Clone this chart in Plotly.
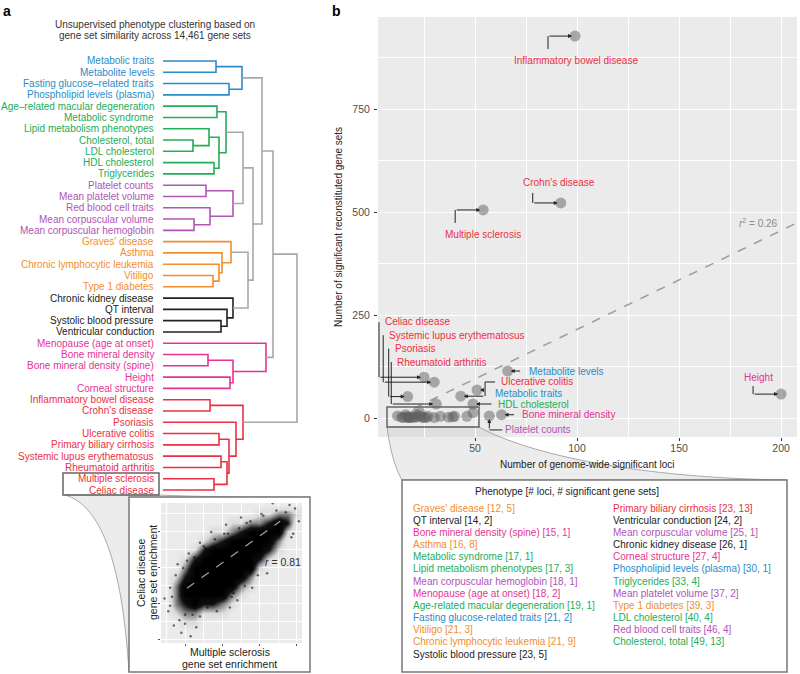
import plotly.graph_objects as go

W, H = 800, 674
FONT = "Liberation Sans, Arial, sans-serif"

def fx(p):  # pixel -> paper x
    return p / W

def fy(p):  # pixel -> paper y
    return 1 - p / H

# ---------------- data ----------------
phenotypes = [
    "Metabolic traits", "Metabolite levels", "Fasting glucose-related traits", "Phospholipid levels (plasma)",
    "Age-related macular degeneration", "Metabolic syndrome", "Lipid metabolism phenotypes", "Cholesterol, total",
    "LDL cholesterol", "HDL cholesterol", "Triglycerides",
    "Platelet counts", "Mean platelet volume", "Red blood cell traits", "Mean corpuscular volume",
    "Mean corpuscular hemoglobin",
    "Graves' disease", "Asthma", "Chronic lymphocytic leukemia", "Vitiligo", "Type 1 diabetes",
    "Chronic kidney disease", "QT interval", "Systolic blood pressure", "Ventricular conduction",
    "Menopause (age at onset)", "Bone mineral density", "Bone mineral density (spine)", "Height", "Corneal structure",
    "Inflammatory bowel disease", "Crohn's disease", "Psoriasis", "Ulcerative colitis", "Primary biliary cirrhosis",
    "Systemic lupus erythematosus", "Rheumatoid arthritis", "Multiple sclerosis", "Celiac disease",
]
clusters = (["blue"] * 4 + ["green"] * 7 + ["purple"] * 5 + ["orange"] * 5 + ["black"] * 4
            + ["pink"] * 5 + ["red"] * 9)
loci = [43, 66, 21, 30, 19, 17, 17, 49, 40, 49, 33, 57, 37, 46, 25, 18, 12, 16, 21, 21, 39,
        26, 14, 23, 24, 18, 63, 15, 200, 27, 99, 92, 17, 51, 23, 30, 31, 54, 25]
gene_sets = [53, 114, 2, 1, 1, 1, 3, 13, 4, 34, 4, 5, 2, 4, 1, 1, 5, 8, 9, 3, 3,
             1, 2, 5, 2, 2, 8, 1, 58, 4, 927, 522, 52, 68, 13, 87, 34, 505, 99]

cluster_colors = {
    "blue": "#2A8CCB", "green": "#22AD58", "purple": "#B054B6", "orange": "#F28E2B",
    "black": "#222222", "pink": "#E63394", "red": "#EB2F43", "gray": "#A8A8A8",
}

# dendrogram merges: (child a, child b, height, colour); leaves 0..38, merge k -> node 39+k
merges = [
    (0, 1, 53, "blue"), (2, 3, 66, "blue"), (39, 40, 79, "blue"),
    (4, 5, 54, "green"), (7, 8, 30, "green"), (6, 43, 46, "green"), (9, 10, 51, "green"),
    (44, 45, 56, "green"), (42, 46, 63, "green"),
    (11, 12, 43, "purple"), (14, 15, 31, "purple"), (13, 49, 47, "purple"), (48, 50, 70, "purple"),
    (19, 20, 50, "orange"), (18, 52, 56, "orange"), (17, 53, 59, "orange"), (16, 54, 68, "orange"),
    (23, 24, 58, "black"), (22, 56, 64, "black"), (21, 57, 70, "black"),
    (26, 27, 45, "pink"), (28, 29, 67, "pink"), (59, 60, 70, "pink"), (25, 61, 103, "pink"),
    (30, 31, 47, "red"), (33, 34, 56, "red"), (35, 36, 58, "red"), (37, 38, 51, "red"),
    (65, 66, 64, "red"), (64, 67, 66, "red"), (32, 68, 73, "red"), (63, 69, 80, "red"),
    (47, 51, 80, "gray"), (55, 58, 85, "gray"), (71, 72, 90, "gray"), (41, 73, 99, "gray"),
    (74, 62, 110, "gray"), (75, 70, 134, "gray"),
]

table_left = ["Graves' disease", "QT interval", "Bone mineral density (spine)", "Asthma", "Metabolic syndrome",
              "Lipid metabolism phenotypes", "Mean corpuscular hemoglobin", "Menopause (age at onset)",
              "Age-related macular degeneration", "Fasting glucose-related traits", "Vitiligo",
              "Chronic lymphocytic leukemia", "Systolic blood pressure"]
table_right = ["Primary biliary cirrhosis", "Ventricular conduction", "Mean corpuscular volume",
               "Chronic kidney disease", "Corneal structure", "Phospholipid levels (plasma)", "Triglycerides",
               "Mean platelet volume", "Type 1 diabetes", "LDL cholesterol", "Red blood cell traits",
               "Cholesterol, total"]

fit_slope, fit_intercept = 2.4, -25.0
fit_x = [12, 215]
r2_text_pos = (189, 473)

# inset (MS vs celiac) density grid
inset_x = [-3, -2.5, -2, -1.5, -1, -0.5, 0, 0.5, 1, 1.5, 2, 2.5, 3, 3.5, 4]
inset_y = [-2, -1.5, -1, -0.5, 0, 0.5, 1, 1.5, 2, 2.5, 3, 3.5, 4, 4.5, 5, 5.5]
inset_density = [
    [0, 0, 0, 0, 0, 0, 0, 0, 0, 0, 0, 0, 0, 0, 0],
    [0, 0, 0, 0, 0, 0, 0, 0, 0, 0, 0, 0, 0, 0, 0],
    [0, 0, 1, 1, 0, 0, 0, 0, 0, 0, 0, 0, 0, 0, 0],
    [0, 1, 2, 2, 1, 1, 1, 0, 0, 0, 0, 0, 0, 0, 0],
    [0, 2, 3, 4, 3, 3, 2, 1, 0, 0, 0, 0, 0, 0, 0],
    [0, 2, 4, 4, 4, 4, 4, 2, 1, 0, 0, 0, 0, 0, 0],
    [0, 2, 4, 4, 4, 4, 4, 4, 2, 1, 0, 0, 0, 0, 0],
    [0, 1, 3, 4, 4, 4, 4, 4, 4, 2, 0, 0, 0, 0, 0],
    [0, 0, 2, 4, 4, 4, 4, 4, 4, 4, 1, 0, 0, 0, 0],
    [0, 0, 1, 3, 4, 4, 4, 4, 4, 4, 3, 1, 0, 0, 0],
    [0, 0, 0, 1, 3, 4, 4, 4, 4, 4, 4, 3, 1, 0, 0],
    [0, 0, 0, 0, 1, 2, 3, 4, 4, 4, 4, 4, 2, 0, 0],
    [0, 0, 0, 0, 0, 1, 1, 2, 3, 4, 4, 4, 4, 1, 0],
    [0, 0, 0, 0, 0, 0, 0, 1, 1, 2, 2, 3, 4, 3, 0],
    [0, 0, 0, 0, 0, 0, 0, 0, 0, 0, 1, 1, 2, 2, 1],
    [0, 0, 0, 0, 0, 0, 0, 0, 0, 0, 0, 0, 0, 0, 0],
]
inset_pts_x = [-2.6, -2.2, -1.7, -3.1, -2.8, -2.4, -1.8, -1.2, -0.6, 0.2, 1.0, 3.9, 4.1, 3.6, 2.7,
               0.8, 1.6, 2.4, -0.3, -1.2, -2.0, -2.9, -1.4, 0.4, 3.8, -2.3, -1.9, -0.9,
               0.1, 1.3, 2.1, 3.4, 1.9, 0.6, -1.6, -2.7, -2.5, -2.1, -1.5, -1.0, -0.4, 0.3, 0.9,
               1.5, 2.2, 2.9, 3.7, -2.8, -2.0, -0.8, 0.5, 1.2]
inset_pts_y = [-1.2, -1.6, -1.8, 0.3, 0.9, 2.2, 2.8, 3.4, 4.0, 4.4, 4.8, 5.3, 4.6, 5.5, 5.6,
               0.2, 0.9, 1.7, -0.4, -0.7, -1.1, -0.4, -1.3, -0.2, 3.9, -0.9, 2.4, 3.1,
               3.9, 4.5, 5.0, 5.1, 1.6, 0.6, -0.6, 0.4, 1.6, 2.0, 2.6, 3.2, 3.6, 3.9, 4.2,
               4.6, 4.9, 5.2, 3.7, -0.1, -0.6, -0.2, 0.4, 1.0]
inset_fit_slope, inset_fit_intercept = 0.745, 2.29
inset_fit_x = [-1.9, 3.1]

# ---------------- figure ----------------
fig = go.Figure()

# dendrogram
n_leaves = len(phenotypes)
node_y = {i: float(i) for i in range(n_leaves)}
node_h = {i: 0.0 for i in range(n_leaves)}
seg = {}
for k, (a, b, h, col) in enumerate(merges):
    nid = n_leaves + k
    node_y[nid] = (node_y[a] + node_y[b]) / 2
    node_h[nid] = h
    xs = [node_h[a], h, h, node_h[b], None]
    ys = [node_y[a], node_y[a], node_y[b], node_y[b], None]
    seg.setdefault(col, ([], []))
    seg[col][0].extend(xs)
    seg[col][1].extend(ys)
for col, (xs, ys) in seg.items():
    fig.add_trace(go.Scatter(x=xs, y=ys, mode="lines", line=dict(color=cluster_colors[col], width=1.6),
                             xaxis="x2", yaxis="y2", hoverinfo="skip", showlegend=False))

# main scatter: regression line then points
fig.add_trace(go.Scatter(x=fit_x, y=[fit_slope * v + fit_intercept for v in fit_x], mode="lines",
                         line=dict(color="#A0A0A0", width=1.6, dash="dash"), xaxis="x", yaxis="y",
                         hoverinfo="skip", showlegend=False))
fig.add_trace(go.Scatter(x=loci, y=gene_sets, mode="markers", text=phenotypes,
                         marker=dict(size=11, color="rgba(95,95,95,0.5)", line=dict(width=0)),
                         xaxis="x", yaxis="y", showlegend=False))

# inset scatter
fig.add_trace(go.Heatmap(x=inset_x, y=inset_y, z=inset_density, zsmooth="best", zmin=0, zmax=4,
                         colorscale=[[0, "rgba(0,0,0,0)"], [0.25, "rgba(0,0,0,0.07)"], [0.5, "rgba(0,0,0,0.45)"],
                                     [0.75, "rgba(0,0,0,0.93)"], [1, "rgba(0,0,0,1)"]],
                         showscale=False, xaxis="x3", yaxis="y3", hoverinfo="skip"))
fig.add_trace(go.Scatter(x=inset_pts_x, y=inset_pts_y, mode="markers",
                         marker=dict(size=2.5, color="rgba(0,0,0,0.55)"), xaxis="x3", yaxis="y3",
                         hoverinfo="skip", showlegend=False))
fig.add_trace(go.Scatter(x=inset_fit_x, y=[inset_fit_slope * v + inset_fit_intercept for v in inset_fit_x],
                         mode="lines", line=dict(color="rgba(190,190,190,0.85)", width=1.2, dash="dash"),
                         xaxis="x3", yaxis="y3", hoverinfo="skip", showlegend=False))

shapes = []
shapes.append(dict(type="rect", xref="paper", yref="paper", x0=fx(378), x1=fx(797), y0=fy(437), y1=fy(17),
                   fillcolor="#EBEBEB", line=dict(width=0), layer="below"))


def P(x, y):
    return f"{fx(x):.5f},{fy(y):.5f}"


funnel_b = (f"M {P(387,427)} L {P(479,427)} C {P(530,455)} {P(640,478)} {P(787,480)} "
            f"L {P(402,480)} C {P(395,468)} {P(390,450)} {P(387,427)} Z")
shapes.append(dict(type="path", xref="paper", yref="paper", path=funnel_b,
                   fillcolor="rgba(200,200,200,0.35)", line=dict(color="rgba(150,150,150,0.8)", width=1),
                   layer="below"))
shapes.append(dict(type="rect", xref="paper", yref="paper", x0=fx(402), x1=fx(787), y0=fy(672), y1=fy(480),
                   fillcolor="white", line=dict(color="#777777", width=1.5), layer="below"))
funnel_a = (f"M {P(65,495)} L {P(159,495)} C {P(200,497)} {P(260,497)} {P(310,497)} "
            f"L {P(129,672)} C {P(122,560)} {P(100,505)} {P(65,495)} Z")
shapes.append(dict(type="path", xref="paper", yref="paper", path=funnel_a,
                   fillcolor="rgba(200,200,200,0.35)", line=dict(color="rgba(150,150,150,0.8)", width=1),
                   layer="below"))
shapes.append(dict(type="rect", xref="paper", yref="paper", x0=fx(129), x1=fx(310), y0=fy(672), y1=fy(497),
                   fillcolor="white", line=dict(color="#777777", width=1.5), layer="below"))
shapes.append(dict(type="rect", xref="paper", yref="paper", x0=fx(161), x1=fx(302), y0=fy(643), y1=fy(503),
                   fillcolor="#EBEBEB", line=dict(width=0), layer="below"))
shapes.append(dict(type="rect", xref="paper", yref="paper", x0=fx(63), x1=fx(159), y0=fy(495), y1=fy(473),
                   line=dict(color="#666666", width=1.5), layer="above"))
shapes.append(dict(type="rect", xref="paper", yref="paper", x0=fx(387), x1=fx(479), y0=fy(427), y1=fy(407),
                   line=dict(color="#666666", width=1.5), layer="above"))

annotations = []


def paper_text(x, y, text, size=10, color="#222222", xanchor="center", angle=0):
    annotations.append(dict(x=fx(x), y=fy(y), xref="paper", yref="paper", text=text, showarrow=False,
                            xanchor=xanchor, yanchor="middle", textangle=angle,
                            font=dict(family=FONT, size=size, color=color)))


# labels for panel b: (label dx, dy, anchor, elbow path pts, arrow tail) in screen px relative to point
label_specs = {
    "Inflammatory bowel disease": (1, 24, "center", [(-27, 13), (-27, 0)], (-27, 0)),
    "Crohn's disease": (-2, -20, "center", [(-28, -10), (-28, 0)], (-28, 0)),
    "Multiple sclerosis": (0, 25, "center", [(-28, 13), (-28, 0)], (-28, 0)),
    "Height": (-23, -17, "center", [(-28, -8), (-28, 0)], (-28, 0)),
    "Metabolite levels": (19, 0, "left", None, (14, 0)),
    "Celiac disease": (-41, -56, "left", [(-45, -55), (-45, 0)], (-45, 0)),
    "Systemic lupus erythematosus": (-47, -47, "left", [(-51, -47), (-51, 0)], (-51, 0)),
    "Psoriasis": (-15, -48, "left", [(-19, -48), (-19, 0)], (-19, 0)),
    "Rheumatoid arthritis": (-41, -42, "left", [(-45, -42), (-45, 0)], (-45, 0)),
    "Ulcerative colitis": (22, -8, "left", [(18, -8), (8, -8), (8, 6)], (8, 0)),
    "Metabolic traits": (32, -3, "left", None, (24, 0)),
    "HDL cholesterol": (23, 0, "left", None, (20, 0)),
    "Bone mineral density": (18, 0, "left", None, (14, 0)),
    "Platelet counts": (14, 14, "left", [(13, 14), (0, 14)], (0, 14)),
}
for name, (dx, dy, anc, path_pts, arrow) in label_specs.items():
    i = phenotypes.index(name)
    x, y = loci[i], gene_sets[i]
    col = cluster_colors[clusters[i]]
    annotations.append(dict(x=x, y=y, xref="x", yref="y", text=name, showarrow=False, xshift=dx, yshift=-dy,
                            xanchor=anc, yanchor="middle", font=dict(family=FONT, size=10, color=col)))
    annotations.append(dict(x=x, y=y, xref="x", yref="y", text="", showarrow=True, ax=arrow[0], ay=arrow[1],
                            axref="pixel", ayref="pixel", arrowhead=2, arrowsize=0.8, arrowwidth=1,
                            arrowcolor="#222222", standoff=3))
    if path_pts:
        p = "M " + " L ".join(f"{a},{-b}" for a, b in path_pts)
        shapes.append(dict(type="path", xref="x", yref="y", xsizemode="pixel", ysizemode="pixel",
                           xanchor=x, yanchor=y, path=p, line=dict(color="#222222", width=1), layer="above"))

annotations.append(dict(x=r2_text_pos[0], y=r2_text_pos[1], xref="x", yref="y",
                        text="<i>r</i><sup>2</sup> = 0.26", showarrow=False, xanchor="center", yanchor="middle",
                        font=dict(family=FONT, size=10, color="#8A8A8A")))

for i, name in enumerate(phenotypes):
    shown = name.replace("-related", "\u2013related")
    annotations.append(dict(x=0, y=i, xref="x2", yref="y2", text=shown, showarrow=False, xanchor="right",
                            yanchor="middle", xshift=-7,
                            font=dict(family=FONT, size=10, color=cluster_colors[clusters[i]])))

annotations.append(dict(x=fx(1), y=fy(1), xref="paper", yref="paper", text="<b>a</b>", showarrow=False,
                        xanchor="left", yanchor="top", font=dict(family=FONT, size=14, color="black")))
annotations.append(dict(x=fx(330), y=fy(1), xref="paper", yref="paper", text="<b>b</b>", showarrow=False,
                        xanchor="left", yanchor="top", font=dict(family=FONT, size=14, color="black")))
paper_text(155, 24, "Unsupervised phenotype clustering based on", color="#333333")
paper_text(155, 36, "gene set similarity across 14,461 gene sets", color="#333333")

paper_text(338, 227, "Number of significant reconstituted gene sets", angle=-90)
paper_text(587, 464, "Number of genome-wide significant loci")

paper_text(141, 573, "Celiac disease", size=10.5, angle=-90)
paper_text(153, 573, "gene set enrichment", size=10.5, angle=-90)
paper_text(230, 652, "Multiple sclerosis", size=10.5)
paper_text(230, 664, "gene set enrichment", size=10.5)
paper_text(283, 562, "<i>r</i> = 0.81", size=10.5, color="#333333")

paper_text(567, 491, "Phenotype [# loci, # significant gene sets]")
for col_names, x0 in ((table_left, 411), (table_right, 611)):
    for r, name in enumerate(col_names):
        i = phenotypes.index(name)
        paper_text(x0, 508 + 12.17 * r, f"{name} [{loci[i]}, {gene_sets[i]}]",
                   color=cluster_colors[clusters[i]], xanchor="left")

tickfont = dict(family=FONT, size=10.5, color="#4D4D4D")
fig.update_layout(
    width=W, height=H, margin=dict(l=0, r=0, t=0, b=0),
    paper_bgcolor="white", plot_bgcolor="rgba(0,0,0,0)", showlegend=False,
    font=dict(family=FONT),
    xaxis=dict(domain=[fx(378), fx(797)], range=[2.45, 207.8], anchor="y",
               tickvals=[50, 100, 150, 200], showgrid=True, gridcolor="white", gridwidth=1.2,
               minor=dict(tickvals=[25, 75, 125, 175], showgrid=True, gridcolor="white", gridwidth=0.5),
               ticks="outside", ticklen=3, tickcolor="#333333", tickwidth=0.8, tickfont=tickfont,
               ticklabelstandoff=-2, zeroline=False, showline=False),
    yaxis=dict(domain=[fy(437), fy(17)], range=[-46.1, 973.3], anchor="x",
               tickvals=[0, 250, 500, 750], showgrid=True, gridcolor="white", gridwidth=1.2,
               minor=dict(tickvals=[125, 375, 625, 875], showgrid=True, gridcolor="white", gridwidth=0.5),
               ticks="outside", ticklen=3, tickcolor="#333333", tickwidth=0.8, tickfont=tickfont,
               ticklabelstandoff=2, zeroline=False, showline=False),
    xaxis2=dict(domain=[fx(163), fx(300)], range=[0, 137], anchor="y2", visible=False),
    yaxis2=dict(domain=[fy(496), fy(55)], range=[38.53, -0.53], anchor="x2", visible=False),
    xaxis3=dict(domain=[fx(161), fx(302)], range=[-3.29, 4.27], anchor="y3",
                tickvals=[-2, 0, 2, 4], showgrid=True, gridcolor="white", gridwidth=1,
                minor=dict(tickvals=[-3, -1, 1, 3], showgrid=True, gridcolor="white", gridwidth=0.5),
                ticks="outside", ticklen=2, tickcolor="#555555", tickwidth=0.8, showticklabels=False,
                zeroline=False),
    yaxis3=dict(domain=[fy(643), fy(503)], range=[-2.17, 5.61], anchor="x3",
                tickvals=[-2, 0, 2, 4], showgrid=True, gridcolor="white", gridwidth=1,
                minor=dict(tickvals=[-1, 1, 3, 5], showgrid=True, gridcolor="white", gridwidth=0.5),
                ticks="outside", ticklen=2, tickcolor="#555555", tickwidth=0.8, showticklabels=False,
                zeroline=False),
    shapes=shapes, annotations=annotations,
)

fig.write_html("out.html", config={"displayModeBar": False},
               post_script="document.body.style.margin='0px';document.body.style.padding='0px';")
